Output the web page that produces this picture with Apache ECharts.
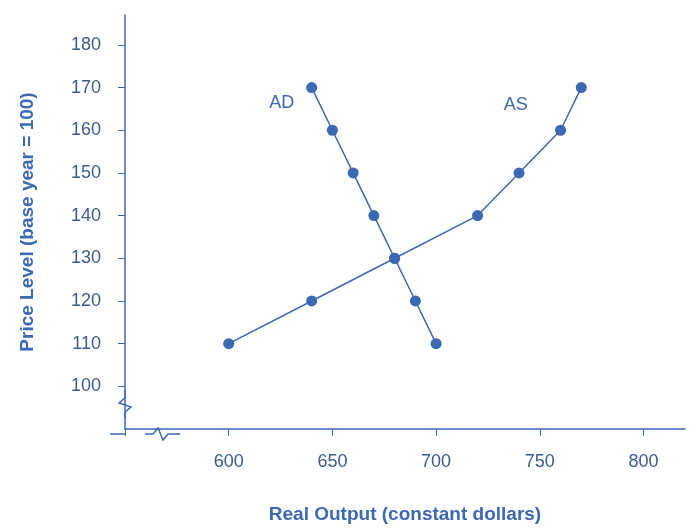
<!DOCTYPE html>
<html><head><meta charset="utf-8">
<script src="https://cdn.jsdelivr.net/npm/echarts@6/dist/echarts.min.js"></script>
<style>html,body{margin:0;padding:0;background:#fff}#c{width:689px;height:529px}</style>
</head><body><div id="c"></div>
<script>
const adX=[640,650,660,670,680,690,700];
const adY=[170,160,150,140,130,120,110];
const asX=[600,640,680,720,740,760,770];
const asY=[110,120,130,140,150,160,170];
const xTicks=[600,650,700,750,800];
const yTicks=[100,110,120,130,140,150,160,170,180];
const C='#3d68b2', T='#3e5b8e';
function pts(xs,ys,idx,lbl,pos){return xs.map((x,i)=>{const d={value:[x,ys[i]]};if(i===idx)d.label={show:true,formatter:lbl,position:pos,color:C,fontSize:18,fontFamily:'Arial'};return d;});}
const ch=echarts.init(document.getElementById('c'));
ch.setOption({
 animation:false,
 grid:{left:125,right:4,top:15,bottom:95},
 xAxis:{type:'value',min:550,max:820,interval:50,
  name:'Real Output (constant dollars)',nameLocation:'middle',nameGap:76,
  nameTextStyle:{color:C,fontSize:19,fontWeight:'bold',fontFamily:'Arial'},
  axisLine:{lineStyle:{color:C,width:1.5}},
  axisTick:{show:true,length:7,lineStyle:{color:C},customValues:[550].concat(xTicks)},
  axisLabel:{color:T,fontSize:18,margin:24,fontFamily:'Arial',customValues:xTicks},
  splitLine:{show:false}},
 yAxis:{type:'value',min:90,max:187,interval:10,
  name:'Price Level (base year = 100)',nameLocation:'middle',nameGap:88,
  nameTextStyle:{color:C,fontSize:19,fontWeight:'bold',fontFamily:'Arial'},
  axisLine:{show:true,lineStyle:{color:C,width:1.5}},
  axisTick:{show:true,length:7,lineStyle:{color:C},customValues:yTicks},
  axisLabel:{color:T,fontSize:18,margin:24,fontFamily:'Arial',customValues:yTicks},
  splitLine:{show:false}},
 series:[
  {type:'line',data:pts(adX,adY,0,'AD',[-37,12]),symbol:'circle',symbolSize:11,
   lineStyle:{color:C,width:1.5},itemStyle:{color:C}},
  {type:'line',data:pts(asX,asY,6,'AS',[-72,14]),symbol:'circle',symbolSize:11,
   lineStyle:{color:C,width:1.5},itemStyle:{color:C}}
 ],
 graphic:[
  {type:'line',shape:{x1:110,y1:434,x2:125,y2:434},style:{stroke:C,lineWidth:1.5}},
  {type:'rect',shape:{x:118,y:398,width:14,height:14},style:{fill:'#fff'}},
  {type:'polyline',shape:{points:[[125,390],[125,398],[119,403],[131,407],[125,412],[125,418]]},style:{stroke:C,lineWidth:1.5,fill:null}},
  {type:'rect',shape:{x:152,y:427,width:20,height:14},style:{fill:'#fff'}},
  {type:'polyline',shape:{points:[[145,434],[153,434],[158,428],[163,440],[168,434],[180,434]]},style:{stroke:C,lineWidth:1.5,fill:null}}
 ]
});
</script></body></html>
